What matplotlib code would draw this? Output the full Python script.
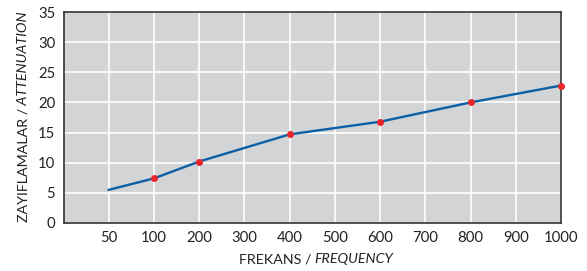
import matplotlib
matplotlib.use("Agg")
import matplotlib.pyplot as plt

plt.rcParams['font.family'] = ['Lato', 'DejaVu Sans']

# frekans kategorileri
freq_labels = ['50', '100', '200', '300', '400', '500', '600', '700', '800', '900', '1000']
# zayiflama degerleri (okunan)
line_freqs = ['50', '100', '200', '400', '600', '800', '1000']
line_vals = [5.5, 7.4, 10.2, 14.7, 16.8, 20.0, 22.8]
dot_freqs = ['100', '200', '400', '600', '800', '1000']
dot_vals = [7.4, 10.2, 14.7, 16.8, 20.0, 22.8]

pos = {f: i + 1 for i, f in enumerate(freq_labels)}

fig = plt.figure(figsize=(5.87, 2.71), dpi=100)
ax = fig.add_axes([63.5 / 587, 1 - 223 / 271, (561 - 63.5) / 587, (223 - 12) / 271])
ax.set_facecolor('#d3d4d6')

ax.plot([pos[f] for f in line_freqs], line_vals, color='#0b5fa5', lw=1.7, zorder=3)
ax.scatter([pos[f] for f in dot_freqs], dot_vals, color='#e8262b', s=16, zorder=4, clip_on=False)

ax.set_xlim(0, 11)
ax.set_ylim(0, 35)
ax.set_xticks([pos[f] for f in freq_labels])
ax.set_xticklabels(freq_labels)
ax.set_yticks(range(0, 36, 5))
ax.tick_params(length=0, labelsize=10.7, colors='#222222', pad=6)
ax.grid(True, color='white', lw=1.2)
ax.set_axisbelow(True)
for s in ax.spines.values():
    s.set_color('#333333')
    s.set_linewidth(1.2)

# etiketler: normal + italik parcalar
fig.canvas.draw()
r = fig.canvas.get_renderer()
fs = 10.3

t1 = fig.text(0, 0, 'FREKANS / ', fontsize=fs, color='#222222', va='baseline')
t2 = fig.text(0, 0, 'FREQUENCY', fontsize=fs, color='#222222', va='baseline', style='italic')
w1 = t1.get_window_extent(r).width
w2 = t2.get_window_extent(r).width
x0 = 316 - (w1 + w2) / 2
yl = 1 - 263 / 271
t1.set_position((x0 / 587, yl))
t2.set_position(((x0 + w1) / 587, yl))

u1 = fig.text(0, 0, 'ZAYIFLAMALAR /', fontsize=fs, color='#222222', ha='left', va='baseline',
              rotation=90, rotation_mode='anchor')
u2 = fig.text(0, 0, ' ATTENUATION', fontsize=fs, color='#222222', ha='left', va='baseline',
              rotation=90, rotation_mode='anchor', style='italic')
h1 = u1.get_window_extent(r).height
h2 = u2.get_window_extent(r).height
start = 117 + (h1 + h2) / 2
xl = 27 / 587
u1.set_position((xl, 1 - start / 271))
u2.set_position((xl, 1 - (start - h1) / 271))

fig.savefig('out.png', dpi=100)
